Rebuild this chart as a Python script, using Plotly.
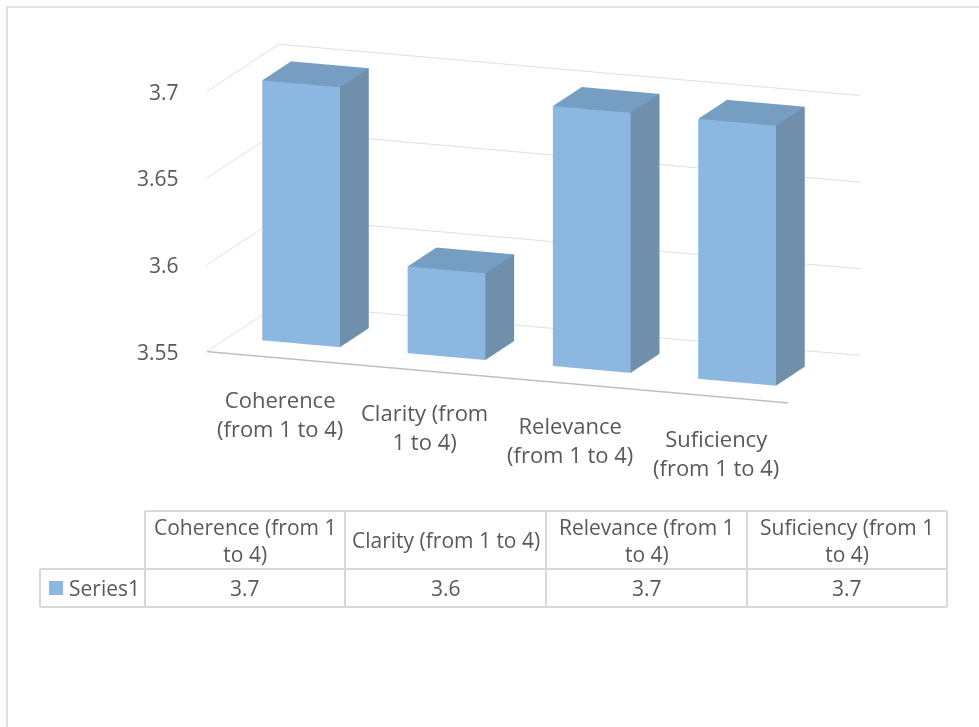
import plotly.graph_objects as go

# ---------------- data ----------------
categories = ["Coherence (from 1 to 4)", "Clarity (from 1 to 4)",
              "Relevance (from 1 to 4)", "Suficiency (from 1 to 4)"]
axis_labels = ["Coherence<br>(from 1 to 4)", "Clarity (from<br>1 to 4)",
               "Relevance<br>(from 1 to 4)", "Suficiency<br>(from 1 to 4)"]
table_headers = ["Coherence (from 1<br>to 4)", "Clarity (from 1 to 4)",
                 "Relevance (from 1<br>to 4)", "Suficiency (from 1<br>to 4)"]
series_name = "Series1"
values = [3.70, 3.60, 3.70, 3.70]
z_ticks = [3.55, 3.6, 3.65, 3.7]
z_tick_labels = ["3.55", "3.6", "3.65", "3.7"]

# ---------------- styling ----------------
FONT = "Open Sans"
TXT = "#595959"
GRID = "#e0e0e0"
LINE = "#d9d9d9"
C_FRONT = "#8cb7e0"
C_SIDE = "#6f8fab"
C_TOP = "#769dc2"
BAR_W = 0.535            # bar width in category units (square bars)
DEPTH = 2.5 * BAR_W      # floor depth (gap depth 150%)
ZMIN, ZMAX = z_ticks[0], z_ticks[-1]
W, H = 979, 727

# ---------------- bars as one mesh ----------------
xs, ys, zs, I, J, K, fc = [], [], [], [], [], [], []
for idx, v in enumerate(values):
    x0, x1 = idx - BAR_W / 2, idx + BAR_W / 2
    y0, y1 = 0.75 * BAR_W, 1.75 * BAR_W
    z0, z1 = ZMIN, v
    base = len(xs)
    for (qx, qy, qz) in [(x0, y0, z0), (x1, y0, z0), (x1, y1, z0), (x0, y1, z0),
                         (x0, y0, z1), (x1, y0, z1), (x1, y1, z1), (x0, y1, z1)]:
        xs.append(qx); ys.append(qy); zs.append(qz)
    faces = [((0, 1, 5), C_FRONT), ((0, 5, 4), C_FRONT),
             ((1, 2, 6), C_SIDE), ((1, 6, 5), C_SIDE),
             ((4, 5, 6), C_TOP), ((4, 6, 7), C_TOP),
             ((3, 2, 6), C_SIDE), ((3, 6, 7), C_SIDE),
             ((0, 3, 7), C_FRONT), ((0, 7, 4), C_FRONT),
             ((0, 1, 2), C_FRONT), ((0, 2, 3), C_FRONT)]
    for (a, b, c), col in faces:
        I.append(base + a); J.append(base + b); K.append(base + c); fc.append(col)

fig = go.Figure()
fig.add_trace(go.Mesh3d(
    x=xs, y=ys, z=zs, i=I, j=J, k=K, facecolor=fc, flatshading=True,
    lighting=dict(ambient=1.0, diffuse=0.0, specular=0.0, roughness=1.0, fresnel=0.0),
    hoverinfo="skip", showscale=False, name=series_name))

axis_common = dict(showbackground=False, showspikes=False, zeroline=False,
                   ticks="", title=dict(text=""))

scene_annotations = [
    dict(x=i, y=0, z=ZMIN, text=lab, showarrow=False, xanchor="center",
         yanchor="middle", yshift=-56,
         font=dict(family=FONT, size=22, color=TXT))
    for i, lab in enumerate(axis_labels)
]
scene_annotations += [
    dict(x=-0.5, y=0, z=t, text=lab, showarrow=False, xanchor="right",
         yanchor="middle", xshift=-26,
         font=dict(family=FONT, size=21, color=TXT))
    for t, lab in zip(z_ticks, z_tick_labels)
]

fig.update_layout(
    width=W, height=H, margin=dict(l=0, r=0, t=0, b=0),
    paper_bgcolor="white", showlegend=False,
    font=dict(family=FONT, color=TXT),
    scene=dict(
        domain=dict(x=[0, 1], y=[0, 1]),
        xaxis=dict(range=[-0.5, len(values) - 0.5], showgrid=False, showline=True,
                   linecolor="#bfbfbf", linewidth=3, showticklabels=False, **axis_common),
        yaxis=dict(range=[0, DEPTH], showgrid=False, showline=False,
                   showticklabels=False, **axis_common),
        zaxis=dict(range=[ZMIN, ZMAX + 0.0004], tickvals=z_ticks, showgrid=True,
                   gridcolor=GRID, gridwidth=2, showline=False,
                   showticklabels=False, **axis_common),
        aspectmode="manual",
        aspectratio=dict(x=1.703, y=0.576, z=0.739),
        camera=dict(eye=dict(x=0.9191, y=-2.8633, z=0.3493),
                    center=dict(x=-0.0817, y=-0.1291, z=-0.3746),
                    up=dict(x=0, y=0, z=1),
                    projection=dict(type="orthographic")),
        annotations=scene_annotations,
    ),
)

# ---------------- data table (paper coordinates) ----------------
def px(x):
    return x / W

def py(y):
    return 1 - y / H

col_edges = [40, 145, 345, 546, 747, 947]
row_edges = [511, 569, 607]
shapes = []
shapes.append(dict(type="rect", xref="paper", yref="paper", x0=px(7), x1=px(W + 20),
                   y0=py(H + 20), y1=py(7), line=dict(color=LINE, width=1.5), layer="above"))
shapes.append(dict(type="line", xref="paper", yref="paper", x0=px(col_edges[1]), x1=px(col_edges[-1]),
                   y0=py(row_edges[0]), y1=py(row_edges[0]), line=dict(color=LINE, width=2)))
for r in row_edges[1:]:
    shapes.append(dict(type="line", xref="paper", yref="paper", x0=px(col_edges[0]), x1=px(col_edges[-1]),
                       y0=py(r), y1=py(r), line=dict(color=LINE, width=2)))
shapes.append(dict(type="line", xref="paper", yref="paper", x0=px(col_edges[0]), x1=px(col_edges[0]),
                   y0=py(row_edges[1]), y1=py(row_edges[2]), line=dict(color=LINE, width=2)))
for c in col_edges[1:]:
    shapes.append(dict(type="line", xref="paper", yref="paper", x0=px(c), x1=px(c),
                       y0=py(row_edges[0]), y1=py(row_edges[2]), line=dict(color=LINE, width=2)))
shapes.append(dict(type="rect", xref="paper", yref="paper", x0=px(49), x1=px(63),
                   y0=py(595), y1=py(581), line=dict(width=0), fillcolor=C_FRONT))

annotations = []
for k, (hdr, v) in enumerate(zip(table_headers, values)):
    cx = (col_edges[k + 1] + col_edges[k + 2]) / 2
    annotations.append(dict(xref="paper", yref="paper", x=px(cx), y=py((row_edges[0] + row_edges[1]) / 2),
                            text=hdr, showarrow=False, xanchor="center", yanchor="middle",
                            font=dict(family=FONT, size=21, color=TXT)))
    annotations.append(dict(xref="paper", yref="paper", x=px(cx), y=py((row_edges[1] + row_edges[2]) / 2),
                            text=f"{v:.1f}", showarrow=False, xanchor="center", yanchor="middle",
                            font=dict(family=FONT, size=21, color=TXT)))
annotations.append(dict(xref="paper", yref="paper", x=px(67), y=py((row_edges[1] + row_edges[2]) / 2),
                        text=series_name, showarrow=False, xanchor="left", yanchor="middle",
                        font=dict(family=FONT, size=21, color=TXT)))

fig.update_layout(shapes=shapes, annotations=annotations)

fig.write_html("out.html", config={"displayModeBar": False},
               post_script="document.body.style.margin='0';")
